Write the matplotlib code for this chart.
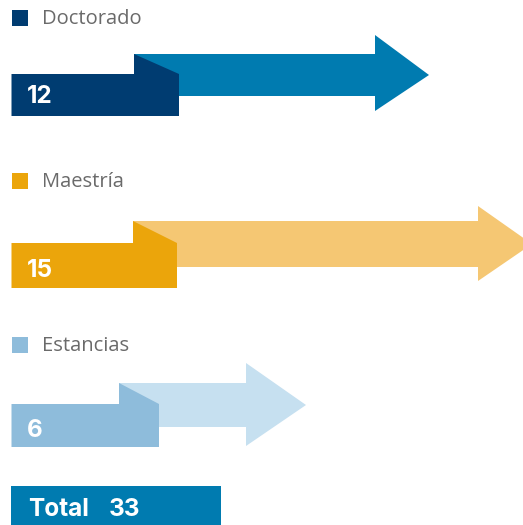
import matplotlib
matplotlib.use("Agg")
import matplotlib.pyplot as plt
from matplotlib.patches import Polygon, Rectangle

categories = ["Doctorado", "Maestría", "Estancias"]
values = [12, 15, 6]
total_label = "Total"
total = sum(values)

dark_colors = ["#003C71", "#EBA50B", "#8EBCDB"]
light_colors = ["#007BB0", "#F5C773", "#C6E0F0"]
total_color = "#007BB0"
label_color = "#6A6A6A"

# layout (pixel coordinates, y downward)
legend_y = [18, 181, 345]
rect_x1 = [179, 177, 159]
rect_top = [74, 243, 404]
rect_bot = [116, 288, 447]
num_baseline = [103, 277, 437]
notch_x = [134, 133, 119]
shaft_top = [54, 221, 383]
shaft_bot = [96, 267, 427]
head_base = [375, 478, 246]
head_top = [35, 206, 363]
head_bot = [111, 281, 446]
head_tip = [429, 532, 306]

W, H = 523, 525
fig = plt.figure(figsize=(W / 100, H / 100), dpi=100)
ax = fig.add_axes([0, 0, 1, 1])
ax.set_xlim(0, W)
ax.set_ylim(H, 0)
ax.axis("off")

label_font = "Open Sans"
num_font = "Inter"

for i, (cat, val) in enumerate(zip(categories, values)):
    # legend
    ax.add_patch(Rectangle((11.5, legend_y[i] - 8), 16, 16, color=dark_colors[i], lw=0))
    ax.text(42, legend_y[i] + 1, cat, fontsize=14.5, family=label_font, color=label_color,
            va="center", ha="left")
    # arrow
    ymid = (shaft_top[i] + shaft_bot[i]) / 2
    arrow = [
        (notch_x[i], shaft_top[i]), (head_base[i], shaft_top[i]), (head_base[i], head_top[i]),
        (head_tip[i], ymid), (head_base[i], head_bot[i]), (head_base[i], shaft_bot[i]),
        (notch_x[i], shaft_bot[i]),
    ]
    ax.add_patch(Polygon(arrow, closed=True, color=light_colors[i], lw=0))
    # dark block with fold
    block = [
        (11.5, rect_top[i]), (notch_x[i], rect_top[i]), (notch_x[i], shaft_top[i]),
        (rect_x1[i], rect_top[i]), (rect_x1[i], rect_bot[i]), (11.5, rect_bot[i]),
    ]
    ax.add_patch(Polygon(block, closed=True, color=dark_colors[i], lw=0))
    ax.text(27, num_baseline[i], str(val), fontsize=17.5, family=num_font,
            fontweight="bold", color="white", va="baseline", ha="left")

# total box
ax.add_patch(Rectangle((11, 486), 210, 39, color=total_color, lw=0))
ax.text(28, 516, total_label, fontsize=17.5, family=num_font, fontweight="bold",
        color="white", va="baseline", ha="left")
ax.text(109, 516, str(total), fontsize=17.5, family=num_font, fontweight="bold",
        color="white", va="baseline", ha="left")

fig.savefig("out.png", dpi=100)
